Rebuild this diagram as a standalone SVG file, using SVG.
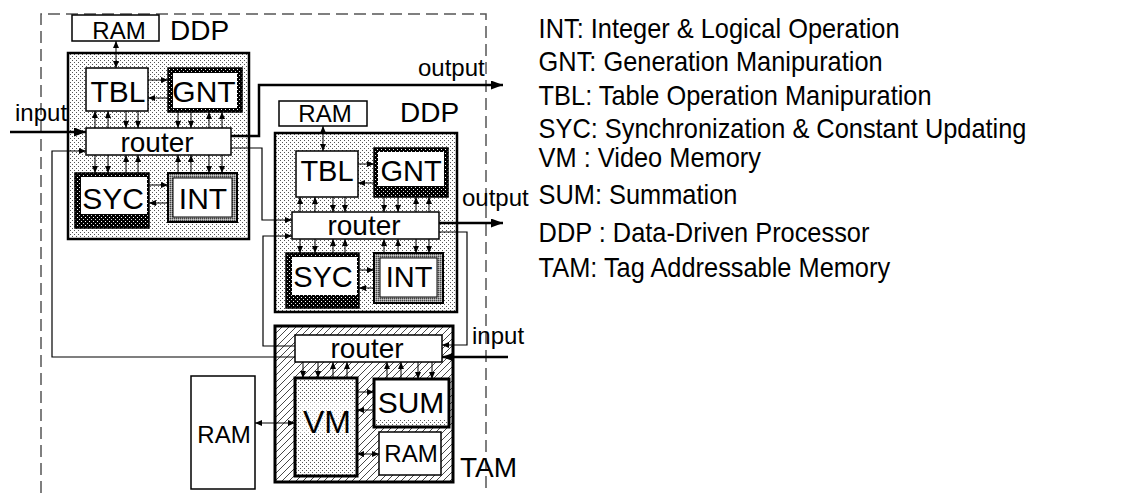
<svg xmlns="http://www.w3.org/2000/svg" width="1125" height="493" viewBox="0 0 1125 493">
<style>
  text { font-family: "Liberation Sans", Arial, sans-serif; fill: #000; }
  .lbl { font-size: 30px; text-anchor: middle; }
  .ram { font-size: 24px; text-anchor: middle; }
  .rt { font-size: 28px; text-anchor: middle; }
  .io { font-size: 24px; }
  .ttl { font-size: 28px; }
  .leg { font-size: 27px; }
  .box { fill: #fff; stroke: #000; stroke-width: 1.5; }
  .thin { fill: none; stroke: #000; stroke-width: 1.2; }
  .thick { fill: none; stroke: #000; stroke-width: 2.5; }
  .ar { stroke: #000; stroke-width: 1; marker-end: url(#a); }
  .ar2 { stroke: #000; stroke-width: 1; marker-start: url(#a); marker-end: url(#a); }
</style>
<defs>
  <pattern id="dots" width="4" height="4" patternUnits="userSpaceOnUse">
    <rect width="4" height="4" fill="#fff"/>
    <rect x="0" y="0" width="1" height="1" fill="#555"/>
    <rect x="2" y="2" width="1" height="1" fill="#555"/>
  </pattern>
  <pattern id="dk" width="4" height="4" patternUnits="userSpaceOnUse">
    <rect width="4" height="4" fill="#000"/>
    <rect x="1" y="1" width="1" height="1" fill="#fff"/>
    <rect x="3" y="3" width="1" height="1" fill="#ddd"/>
  </pattern>
  <pattern id="grey" width="2" height="2" patternUnits="userSpaceOnUse">
    <rect width="2" height="2" fill="#999"/>
    <rect x="0" y="0" width="1" height="1" fill="#444"/>
    <rect x="1" y="1" width="1" height="1" fill="#ccc"/>
  </pattern>
  <pattern id="hatch" width="7" height="7" patternUnits="userSpaceOnUse">
    <rect width="7" height="7" fill="#fff"/>
    <path d="M0,7 L7,0 M-1,1 L1,-1 M6,8 L8,6" stroke="#333" stroke-width="0.9"/>
  </pattern>
  <marker id="a" viewBox="0 0 7 6" refX="7" refY="3" markerWidth="7" markerHeight="6" markerUnits="userSpaceOnUse" orient="auto-start-reverse">
    <path d="M0,0 L7,3 L0,6 z" fill="#000"/>
  </marker>
  <marker id="b" viewBox="0 0 12 9" refX="12" refY="4.5" markerWidth="12" markerHeight="9" markerUnits="userSpaceOnUse" orient="auto">
    <path d="M0,0 L12,4.5 L0,9 z" fill="#000"/>
  </marker>
</defs>

<!-- chip boundary -->
<path d="M41,493 V14 H486 V493" fill="none" stroke="#555" stroke-width="1.5" stroke-dasharray="12 6"/>

<!-- first data-driven processor -->
<g id="ddp1">
  <rect x="68" y="53" width="181" height="186" fill="url(#dots)" stroke="#000" stroke-width="2.5"/>
  <rect x="72" y="15" width="87" height="26" class="box" stroke-width="2"/>
  <text x="119" y="39" class="ram">RAM</text>
  <text x="170" y="40" class="ttl">DDP</text>
</g>
<g id="tbl1">
  <rect x="86" y="68" width="62" height="43" class="box"/>
  <text x="118" y="102" class="lbl">TBL</text>
</g>
<g id="gnt1">
  <rect x="168" y="68" width="74" height="44" fill="url(#dk)" stroke="#000" stroke-width="1.5"/>
  <rect x="173" y="73" width="64" height="35" fill="#fff"/>
  <text x="204" y="102" class="lbl">GNT</text>
</g>
<g id="router1">
  <rect x="86" y="128" width="145" height="27" class="box" stroke-width="1"/>
  <text x="157" y="152" class="rt">router</text>
</g>
<g id="syc1">
  <rect x="75" y="173" width="74" height="55" fill="url(#dk)" stroke="#000" stroke-width="1.5"/>
  <rect x="81" y="177" width="66" height="37" fill="#fff"/>
  <text x="113" y="209" class="lbl">SYC</text>
</g>
<g id="int1">
  <rect x="168" y="173" width="69" height="49" fill="url(#grey)" stroke="#000" stroke-width="2"/>
  <rect x="173" y="178" width="59" height="39" fill="#fff" stroke="#000" stroke-width="1"/>
  <text x="203" y="209" class="lbl">INT</text>
</g>

<!-- second data-driven processor -->
<g id="ddp2">
  <rect x="275" y="133" width="182" height="179" fill="url(#dots)" stroke="#000" stroke-width="2.5"/>
  <rect x="279" y="101" width="88" height="25" class="box" stroke-width="2"/>
  <text x="325" y="122" class="ram">RAM</text>
  <text x="400" y="122" class="ttl">DDP</text>
</g>
<g id="tbl2">
  <rect x="296" y="151" width="62" height="46" class="box"/>
  <text x="327" y="181" class="lbl" style="font-size:29px">TBL</text>
</g>
<g id="gnt2">
  <rect x="374" y="148" width="74" height="49" fill="url(#dk)" stroke="#000" stroke-width="1.5"/>
  <rect x="378" y="152" width="66" height="34" fill="#fff"/>
  <text x="411" y="181" class="lbl" style="font-size:29px">GNT</text>
</g>
<g id="router2">
  <rect x="292" y="212" width="147" height="27" class="box" stroke-width="1"/>
  <text x="364" y="235" class="rt">router</text>
</g>
<g id="syc2">
  <rect x="286" y="253" width="73" height="55" fill="url(#dk)" stroke="#000" stroke-width="1.5"/>
  <rect x="292" y="257" width="65" height="38" fill="#fff"/>
  <text x="323" y="287" class="lbl" style="font-size:29px">SYC</text>
</g>
<g id="int2">
  <rect x="374" y="253" width="69" height="50" fill="url(#grey)" stroke="#000" stroke-width="2"/>
  <rect x="380" y="258" width="57" height="39" fill="#fff" stroke="#000" stroke-width="1"/>
  <text x="409" y="287" class="lbl" style="font-size:29px">INT</text>
</g>

<!-- tag addressable memory -->
<g id="tam">
  <rect x="275" y="326" width="178" height="156" fill="url(#hatch)" stroke="#000" stroke-width="3"/>
  <text x="460" y="477" class="ttl">TAM</text>
</g>
<g id="router3">
  <rect x="295" y="335" width="147" height="27" class="box" stroke-width="1"/>
  <text x="367" y="358" class="rt">router</text>
</g>
<g id="vm">
  <rect x="295" y="378" width="62" height="98" fill="url(#dots)" stroke="#000" stroke-width="3"/>
  <rect x="299" y="402" width="54" height="32" fill="#fff" opacity="0.5"/>
  <text x="327" y="433" class="lbl" style="font-size:32px">VM</text>
</g>
<g id="sum">
  <rect x="374" y="379" width="75" height="48" fill="#fff" stroke="#000" stroke-width="3"/>
  <rect x="376" y="420" width="71" height="5" fill="url(#dots)"/>
  <text x="411" y="413" class="lbl">SUM</text>
</g>
<g id="ram3">
  <rect x="379" y="432" width="62" height="43" class="box" stroke-width="1"/>
  <text x="411" y="462" class="ram">RAM</text>
</g>
<g id="ram-ext">
  <rect x="191" y="376" width="64" height="113" class="box" stroke-width="2"/>
  <text x="224" y="443" class="ram">RAM</text>
</g>

<!-- connectors -->
<g id="connectors">
  <!-- DDP1 internal -->
  <line x1="116" y1="41" x2="116" y2="68" class="ar2"/>
  <line x1="148" y1="80" x2="168" y2="80" class="ar"/>
  <line x1="168" y1="98" x2="148" y2="98" class="ar"/>
  <line x1="95" y1="128" x2="95" y2="111" class="ar"/>
  <line x1="108" y1="128" x2="108" y2="111" class="ar"/>
  <line x1="126" y1="111" x2="126" y2="128" class="ar"/>
  <line x1="138" y1="111" x2="138" y2="128" class="ar"/>
  <line x1="178" y1="112" x2="178" y2="128" class="ar"/>
  <line x1="191" y1="112" x2="191" y2="128" class="ar"/>
  <line x1="209" y1="128" x2="209" y2="112" class="ar"/>
  <line x1="222" y1="128" x2="222" y2="112" class="ar"/>
  <line x1="95" y1="155" x2="95" y2="173" class="ar"/>
  <line x1="108" y1="155" x2="108" y2="173" class="ar"/>
  <line x1="126" y1="173" x2="126" y2="155" class="ar"/>
  <line x1="138" y1="173" x2="138" y2="155" class="ar"/>
  <line x1="178" y1="173" x2="178" y2="155" class="ar"/>
  <line x1="191" y1="173" x2="191" y2="155" class="ar"/>
  <line x1="209" y1="155" x2="209" y2="173" class="ar"/>
  <line x1="222" y1="155" x2="222" y2="173" class="ar"/>
  <line x1="149" y1="185" x2="168" y2="185" class="ar"/>
  <line x1="168" y1="203" x2="149" y2="203" class="ar"/>

  <!-- DDP2 internal -->
  <line x1="323" y1="126" x2="323" y2="151" class="ar2"/>
  <line x1="358" y1="164" x2="374" y2="164" class="ar"/>
  <line x1="374" y1="183" x2="358" y2="183" class="ar"/>
  <line x1="300" y1="212" x2="300" y2="197" class="ar"/>
  <line x1="315" y1="212" x2="315" y2="197" class="ar"/>
  <line x1="333" y1="197" x2="333" y2="212" class="ar"/>
  <line x1="345" y1="197" x2="345" y2="212" class="ar"/>
  <line x1="384" y1="197" x2="384" y2="212" class="ar"/>
  <line x1="398" y1="197" x2="398" y2="212" class="ar"/>
  <line x1="416" y1="212" x2="416" y2="197" class="ar"/>
  <line x1="429" y1="212" x2="429" y2="197" class="ar"/>
  <line x1="300" y1="239" x2="300" y2="253" class="ar"/>
  <line x1="315" y1="239" x2="315" y2="253" class="ar"/>
  <line x1="333" y1="253" x2="333" y2="239" class="ar"/>
  <line x1="345" y1="253" x2="345" y2="239" class="ar"/>
  <line x1="384" y1="253" x2="384" y2="239" class="ar"/>
  <line x1="398" y1="253" x2="398" y2="239" class="ar"/>
  <line x1="416" y1="239" x2="416" y2="253" class="ar"/>
  <line x1="429" y1="239" x2="429" y2="253" class="ar"/>
  <line x1="359" y1="270" x2="374" y2="270" class="ar"/>
  <line x1="374" y1="288" x2="359" y2="288" class="ar"/>

  <!-- TAM internal -->
  <line x1="303" y1="362" x2="303" y2="378" class="ar"/>
  <line x1="318" y1="362" x2="318" y2="378" class="ar"/>
  <line x1="333" y1="378" x2="333" y2="362" class="ar"/>
  <line x1="347" y1="378" x2="347" y2="362" class="ar"/>
  <line x1="387" y1="379" x2="387" y2="362" class="ar"/>
  <line x1="401" y1="379" x2="401" y2="362" class="ar"/>
  <line x1="418" y1="362" x2="418" y2="379" class="ar"/>
  <line x1="432" y1="362" x2="432" y2="379" class="ar"/>
  <line x1="357" y1="392" x2="374" y2="392" class="ar"/>
  <line x1="374" y1="410" x2="357" y2="410" class="ar"/>
  <line x1="357" y1="454" x2="379" y2="454" class="ar2"/>
  <line x1="255" y1="423" x2="295" y2="423" class="ar2"/>

  <!-- external inputs and outputs -->
  <path d="M10,132 H86" class="thick" marker-end="url(#b)"/>
  <path d="M231,136 H259 V85 H503" class="thick" marker-end="url(#b)"/>
  <path d="M439,223 H503" class="thick" marker-end="url(#b)"/>
  <path d="M508,357 H442" class="thick" marker-end="url(#b)"/>

  <!-- ring links between routers -->
  <path d="M231,148 H262 V220 H292" class="thin" marker-end="url(#a)"/>
  <path d="M439,232 H467 V345 H442" class="thin" marker-end="url(#a)"/>
  <path d="M295,346 H263 V236 H292" class="thin" marker-end="url(#a)"/>
  <path d="M295,357 H52 V151 H86" class="thin" marker-end="url(#a)"/>

  <text x="15" y="121" class="io">input</text>
  <text x="418" y="76" class="io">output</text>
  <text x="462" y="206" class="io">output</text>
  <text x="472" y="344" class="io">input</text>
</g>

<!-- abbreviations, set slightly condensed -->
<g id="legend" transform="scale(0.94,1)">
  <text x="573" y="38" class="leg">INT: Integer &amp; Logical Operation</text>
  <text x="573" y="71" class="leg">GNT: Generation Manipuration</text>
  <text x="573" y="105" class="leg">TBL: Table Operation Manipuration</text>
  <text x="573" y="138" class="leg">SYC: Synchronization &amp; Constant Updating</text>
  <text x="573" y="167" class="leg">VM : Video Memory</text>
  <text x="573" y="204" class="leg">SUM: Summation</text>
  <text x="573" y="242" class="leg">DDP : Data-Driven Processor</text>
  <text x="573" y="277" class="leg">TAM: Tag Addressable Memory</text>
</g>
</svg>
